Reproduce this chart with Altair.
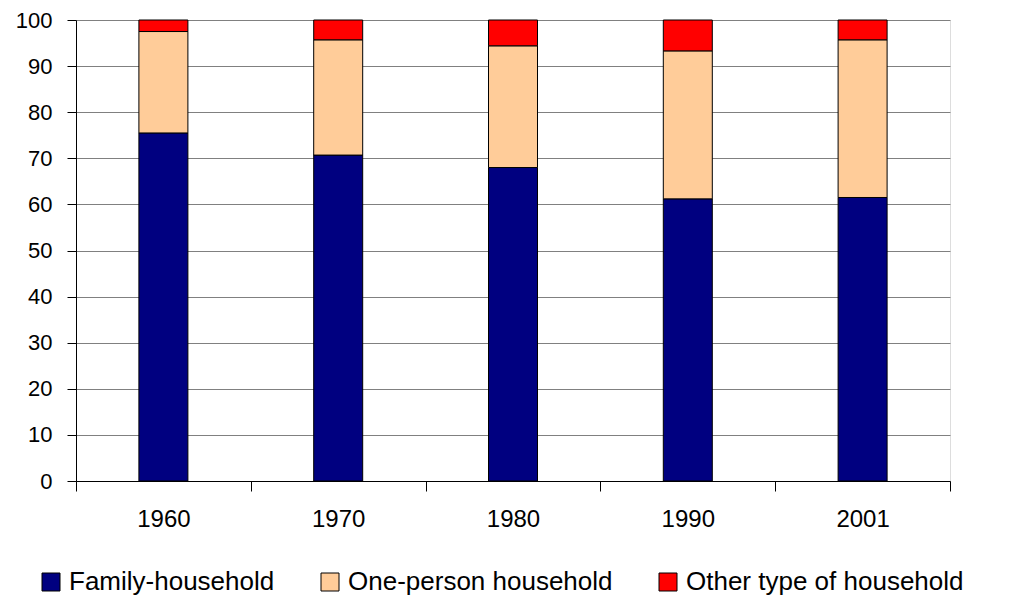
import altair as alt
import pandas as pd

years = ["1960", "1970", "1980", "1990", "2001"]
categories = ["Family-household", "One-person household", "Other type of household"]
colors = ["#000080", "#FFCC99", "#FF0000"]

family = [75.5, 70.7, 68.0, 61.2, 61.5]
one_person = [22.0, 25.0, 26.4, 32.1, 34.2]
other = [2.5, 4.3, 5.6, 6.7, 4.3]

y_ticks = list(range(0, 101, 10))

rows = []
for i, yr in enumerate(years):
    for j, (cat, vals) in enumerate(zip(categories, [family, one_person, other])):
        rows.append({"year": yr, "type": cat, "value": vals[i], "order": j})
df = pd.DataFrame(rows)

FONT = "Liberation Sans"

chart = alt.Chart(df).mark_bar(size=49, stroke="black", strokeWidth=1).encode(
    x=alt.X(
        "year:N", sort=years, title=None,
        scale=alt.Scale(paddingInner=0, paddingOuter=0),
        axis=alt.Axis(labelAngle=0, tickBand="extent", tickSize=10, labelFontSize=24,
                      labelPadding=16, domainColor="black", tickColor="black",
                      labelColor="black", labelFont=FONT, grid=False),
    ),
    y=alt.Y(
        "value:Q", stack="zero", title=None,
        scale=alt.Scale(domain=[0, 100], nice=False),
        axis=alt.Axis(values=y_ticks, tickSize=9, labelPadding=15, labelFontSize=22,
                      labelFont=FONT, labelColor="black", gridColor="#808080",
                      gridOpacity=1, domainColor="black", tickColor="black"),
    ),
    color=alt.Color(
        "type:N",
        scale=alt.Scale(domain=categories, range=colors),
        legend=alt.Legend(title=None, orient="none", legendX=-38, legendY=549,
                          direction="horizontal", symbolType="square", symbolSize=324,
                          symbolStrokeColor="black", symbolStrokeWidth=1,
                          symbolOpacity=1, labelFontSize=26, labelFont=FONT,
                          labelColor="black", columnPadding=42, labelOffset=5,
                          labelLimit=500),
    ),
    order=alt.Order("order:Q", sort="ascending"),
).properties(
    width=874, height=461,
    autosize=alt.AutoSizeParams(type="none"),
    padding={"left": 68, "top": 12, "right": 50, "bottom": 119},
).configure_view(
    stroke="#808080", strokeWidth=1
).configure(background="white")

chart.save("out.html", embed_options={"renderer": "svg", "actions": False})
